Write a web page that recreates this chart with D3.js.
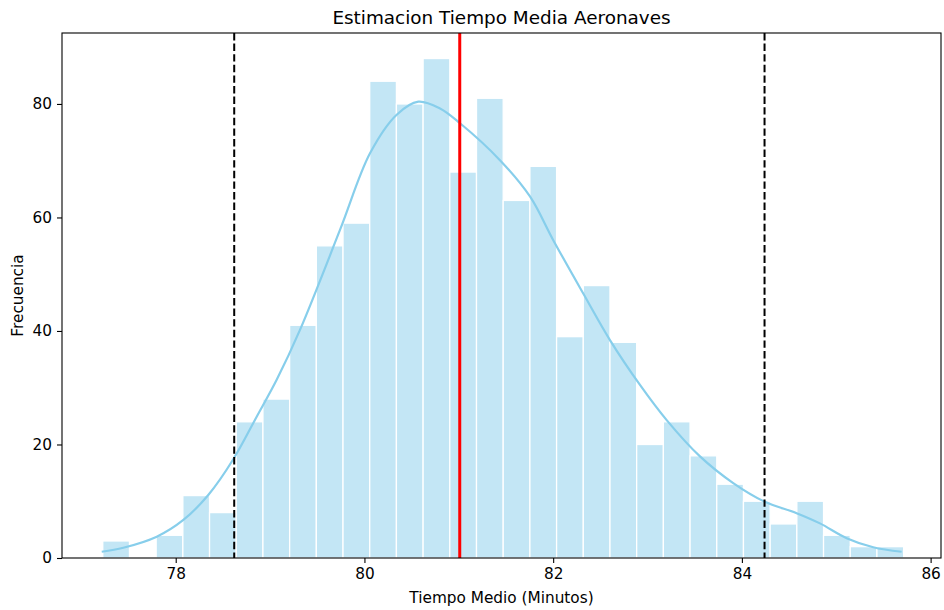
<!DOCTYPE html>
<html>
<head>
<meta charset="utf-8">
<script src="https://cdn.jsdelivr.net/npm/d3@7"></script>
<style>
  body { margin: 0; background: #fff; }
  text { font-family: "DejaVu Sans", sans-serif; fill: #000; }
</style>
</head>
<body>
<div id="chart"></div>
<script>
// histogram bins (30 bins)
var binStart = 77.227
var binWidth = 0.2829
var counts = [3, 0, 4, 11, 8, 24, 28, 41, 55, 59, 84, 80, 88, 68, 81, 63, 69, 39, 48, 38, 20, 24, 18, 13, 10, 6, 10, 4, 2, 2];

// kde curve
var kdeX = [77.216, 77.445, 77.799, 78.081, 78.345, 78.610, 78.858, 79.070, 79.317, 79.741, 80.059, 80.342, 80.571, 80.801, 81.013, 81.436, 81.754, 82.001, 82.319, 82.602, 82.920, 83.203, 83.556, 83.908, 84.244, 84.580, 84.827, 85.110, 85.392, 85.693];
var kdeY = [1.1, 1.8, 3.75, 6.7, 11.1, 17.4, 24.9, 31.4, 40.2, 57.8, 71.3, 78.1, 80.4, 79.2, 76.6, 70.1, 63.7, 56.0, 46.6, 38.4, 30.5, 24.3, 17.9, 13.2, 9.9, 7.9, 6.1, 3.5, 1.9, 1.1];

// reference lines
var meanValue = 81.01
var ciValues = [78.62, 84.24]

var xTicks = [78, 80, 82, 84, 86]
var yTicks = [0, 20, 40, 60, 80]

var svgWidth = 944, svgHeight = 610
var margin = {top: 33, right: 3, bottom: 52, left: 62}
var width = svgWidth - margin.left - margin.right
var height = svgHeight - margin.top - margin.bottom

var svg = d3.select("#chart").append("svg")
    .attr("width", svgWidth)
    .attr("height", svgHeight)

var g = svg.append("g")
    .attr("transform", `translate(${margin.left},${margin.top})`)

var x = d3.scaleLinear().domain([76.795, 86.11]).range([0, width])
var y = d3.scaleLinear().domain([0, 92.5]).range([height, 0])

// bars
g.selectAll("rect.bar")
  .data(counts)
  .enter()
  .append("rect")
  .attr("class", "bar")
  .attr("x", (d, i) => x(binStart + i * binWidth))
  .attr("y", d => y(d))
  .attr("width", x(binStart + binWidth) - x(binStart))
  .attr("height", d => height - y(d))
  .attr("fill", "#87CEEB")
  .attr("fill-opacity", 0.5)
  .attr("stroke", "#fff")
  .attr("stroke-width", 1.3)

// kde
var line = d3.line()
  .x(d => x(d[0]))
  .y(d => y(d[1]))
  .curve(d3.curveCatmullRom)

g.append("path")
  .datum(d3.zip(kdeX, kdeY))
  .attr("d", line)
  .attr("fill", "none")
  .attr("stroke", "#87CEEB")
  .attr("stroke-width", 2.2)

// lines
g.selectAll("line.ci")
  .data(ciValues)
  .enter()
  .append("line")
  .attr("x1", d => x(d)).attr("x2", d => x(d))
  .attr("y1", 0).attr("y2", height)
  .attr("stroke", "#000")
  .attr("stroke-width", 2)
  .attr("stroke-dasharray", "7.4,3.2")

g.append("line")
  .attr("x1", x(meanValue)).attr("x2", x(meanValue))
  .attr("y1", 0).attr("y2", height)
  .attr("stroke", "red")
  .attr("stroke-width", 3)

// axes
var xAxis = g.append("g")
  .attr("transform", `translate(0,${height})`)
  .call(d3.axisBottom(x).tickValues(xTicks).tickSize(5).tickPadding(5).tickFormat(d3.format("d")))
var yAxis = g.append("g")
  .call(d3.axisLeft(y).tickValues(yTicks).tickSize(5).tickPadding(5).tickFormat(d3.format("d")))

g.selectAll(".domain").remove()
g.selectAll(".tick text").style("font-size", "15.3px").style("font-family", "DejaVu Sans")
g.selectAll(".tick line").attr("stroke", "#000").attr("stroke-width", 1.1)

// frame
g.append("rect")
  .attr("width", width).attr("height", height)
  .attr("fill", "none")
  .attr("stroke", "#000")
  .attr("stroke-width", 1.1)

svg.append("text")
  .attr("x", margin.left + width / 2).attr("y", 24)
  .attr("text-anchor", "middle")
  .style("font-size", "18.4px")
  .text("Estimacion Tiempo Media Aeronaves")

svg.append("text")
  .attr("x", margin.left + width / 2).attr("y", 603)
  .attr("text-anchor", "middle")
  .style("font-size", "15.3px")
  .text("Tiempo Medio (Minutos)")

svg.append("text")
  .attr("transform", `translate(23,${margin.top + height / 2}) rotate(-90)`)
  .attr("text-anchor", "middle")
  .style("font-size", "15.3px")
  .text("Frecuencia")
</script>
</body>
</html>
